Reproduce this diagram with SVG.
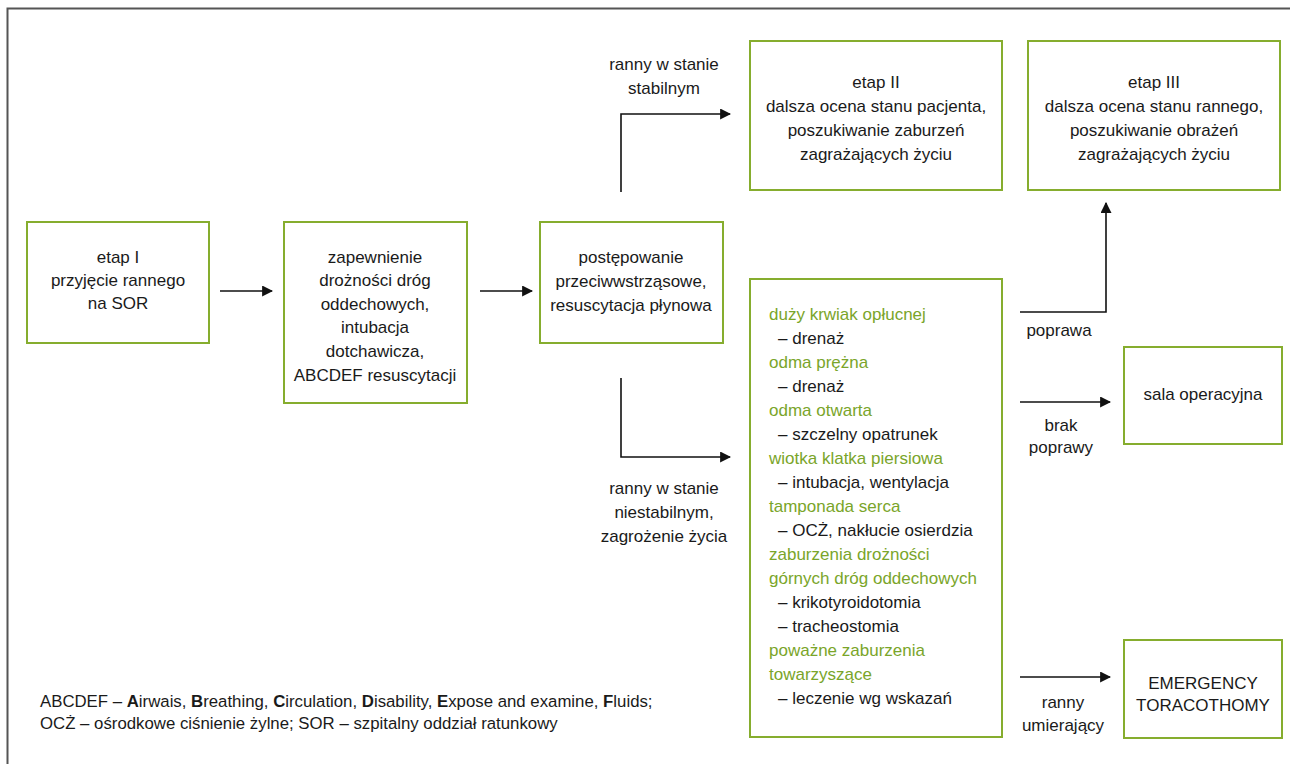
<svg xmlns="http://www.w3.org/2000/svg" width="1290" height="764" viewBox="0 0 1290 764">
  <style>
    text { font-family: "Liberation Sans", Arial, sans-serif; font-size: 17px; fill: #1a1a1a; }
    .c { text-anchor: middle; }
    .g { fill: #7aa52a; }
    .box { fill: #ffffff; stroke: #86ad2e; stroke-width: 2; }
    .line { fill: none; stroke: #111; stroke-width: 1.6; }
    .note { font-size: 16.8px; }
    .note tspan.b { font-weight: bold; }
  </style>
  <defs>
    <marker id="arrow" viewBox="0 0 10 10" refX="9" refY="5" markerWidth="11" markerHeight="11" markerUnits="userSpaceOnUse" orient="auto">
      <path d="M0,0 L10,5 L0,10 Z" fill="#111"/>
    </marker>
  </defs>

  <!-- outer frame -->
  <path d="M7.5,764 L7.5,8.5 L1290,8.5" fill="none" stroke="#555" stroke-width="2"/>

  <g id="etap1">
    <rect class="box" x="27" y="222" width="182" height="121"/>
    <text class="c" x="118" y="263">etap I</text>
    <text class="c" x="118" y="286">przyjęcie rannego</text>
    <text class="c" x="118" y="309">na SOR</text>
  </g>

  <g id="droznosc">
    <rect class="box" x="284" y="222" width="183" height="181"/>
    <text class="c" x="375" y="263">zapewnienie</text>
    <text class="c" x="375" y="286">drożności dróg</text>
    <text class="c" x="375" y="310">oddechowych,</text>
    <text class="c" x="375" y="333">intubacja</text>
    <text class="c" x="375" y="357">dotchawicza,</text>
    <text class="c" x="375" y="381">ABCDEF resuscytacji</text>
  </g>

  <g id="wstrzas">
    <rect class="box" x="540" y="222" width="183" height="121"/>
    <text class="c" x="631" y="263">postępowanie</text>
    <text class="c" x="631" y="287">przeciwwstrząsowe,</text>
    <text class="c" x="631" y="311">resuscytacja płynowa</text>
  </g>

  <g id="etap2">
    <rect class="box" x="750" y="41" width="252" height="149"/>
    <text class="c" x="876" y="88">etap II</text>
    <text class="c" x="876" y="112">dalsza ocena stanu pacjenta,</text>
    <text class="c" x="876" y="136">poszukiwanie zaburzeń</text>
    <text class="c" x="876" y="160">zagrażających życiu</text>
  </g>

  <g id="etap3">
    <rect class="box" x="1028" y="41" width="252" height="149"/>
    <text class="c" x="1154" y="88">etap III</text>
    <text class="c" x="1154" y="112">dalsza ocena stanu rannego,</text>
    <text class="c" x="1154" y="136">poszukiwanie obrażeń</text>
    <text class="c" x="1154" y="160">zagrażających życiu</text>
  </g>

  <g id="postepowanie-niestabilny">
    <rect class="box" x="750" y="279" width="252" height="458"/>
    <text class="g" x="769" y="320">duży krwiak opłucnej</text>
    <text x="778" y="344">– drenaż</text>
    <text class="g" x="769" y="368">odma prężna</text>
    <text x="778" y="392">– drenaż</text>
    <text class="g" x="769" y="416">odma otwarta</text>
    <text x="778" y="440">– szczelny opatrunek</text>
    <text class="g" x="769" y="464">wiotka klatka piersiowa</text>
    <text x="778" y="488">– intubacja, wentylacja</text>
    <text class="g" x="769" y="512">tamponada serca</text>
    <text x="778" y="536">– OCŻ, nakłucie osierdzia</text>
    <text class="g" x="769" y="560">zaburzenia drożności</text>
    <text class="g" x="769" y="584">górnych dróg oddechowych</text>
    <text x="778" y="608">– krikotyroidotomia</text>
    <text x="778" y="632">– tracheostomia</text>
    <text class="g" x="769" y="656">poważne zaburzenia</text>
    <text class="g" x="769" y="680">towarzyszące</text>
    <text x="778" y="704">– leczenie wg wskazań</text>
  </g>

  <g id="sala">
    <rect class="box" x="1124" y="347" width="158" height="97"/>
    <text class="c" x="1203" y="400">sala operacyjna</text>
  </g>

  <g id="torakotomia">
    <rect class="box" x="1124" y="640" width="158" height="98"/>
    <text class="c" x="1203" y="689">EMERGENCY</text>
    <text class="c" x="1203" y="711">TORACOTHOMY</text>
  </g>

  <g id="connectors">
    <path class="line" d="M220,291 H272" marker-end="url(#arrow)"/>
    <path class="line" d="M480,291 H532" marker-end="url(#arrow)"/>
    <path class="line" d="M621,192 V114 H730" marker-end="url(#arrow)"/>
    <path class="line" d="M621,378 V457 H730" marker-end="url(#arrow)"/>
    <path class="line" d="M1020,312 H1106 V203" marker-end="url(#arrow)"/>
    <path class="line" d="M1020,402 H1110" marker-end="url(#arrow)"/>
    <path class="line" d="M1020,677 H1110" marker-end="url(#arrow)"/>
  </g>

  <g id="connector-labels">
    <text class="c" x="664" y="70">ranny w stanie</text>
    <text class="c" x="664" y="94">stabilnym</text>
    <text class="c" x="664" y="494">ranny w stanie</text>
    <text class="c" x="664" y="518">niestabilnym,</text>
    <text class="c" x="664" y="542">zagrożenie życia</text>
    <text class="c" x="1059" y="336">poprawa</text>
    <text class="c" x="1061" y="431">brak</text>
    <text class="c" x="1061" y="453">poprawy</text>
    <text class="c" x="1063" y="708">ranny</text>
    <text class="c" x="1063" y="731">umierający</text>
  </g>

  <g id="legenda">
    <text class="note" x="40" y="707">ABCDEF – <tspan class="b">A</tspan>irwais, <tspan class="b">B</tspan>reathing, <tspan class="b">C</tspan>irculation, <tspan class="b">D</tspan>isability, <tspan class="b">E</tspan>xpose and examine, <tspan class="b">F</tspan>luids;</text>
    <text class="note" x="40" y="729">OCŻ – ośrodkowe ciśnienie żylne; SOR – szpitalny oddział ratunkowy</text>
  </g>
</svg>
